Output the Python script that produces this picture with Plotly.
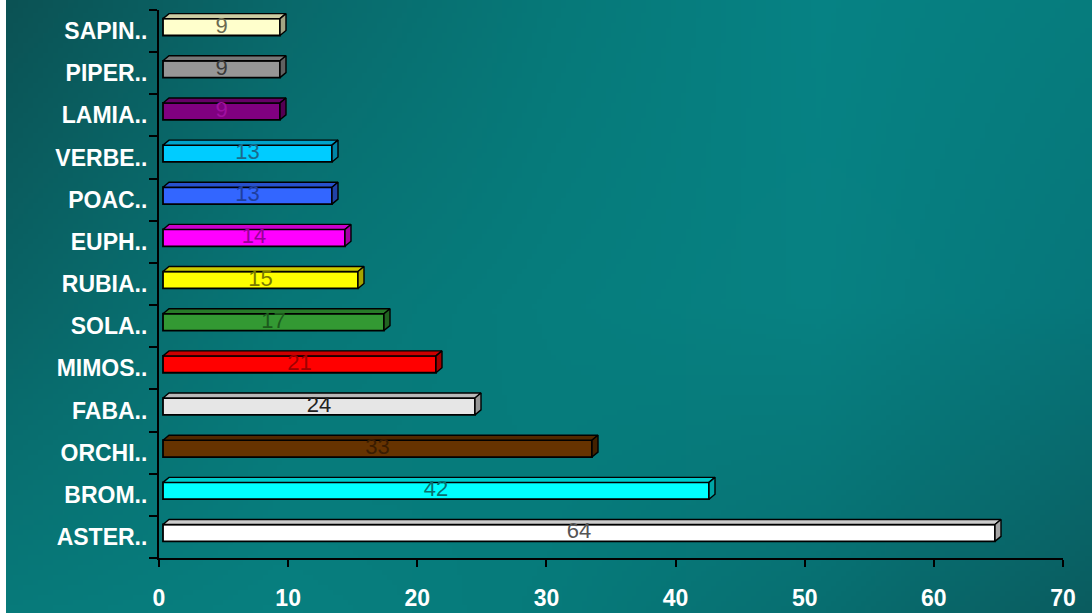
import base64
import struct
import zlib

import plotly.graph_objects as go

# Families, listed bottom to top
families = ["ASTER..", "BROM..", "ORCHI..", "FABA..", "MIMOS..", "SOLA..", "RUBIA..",
            "EUPH..", "POAC..", "VERBE..", "LAMIA..", "PIPER..", "SAPIN.."]
counts = [64, 42, 33, 24, 21, 17, 15, 14, 13, 13, 9, 9, 9]

face_colors = ["#ffffff", "#00ffff", "#663300", "#e6e6e6", "#ff0000", "#339933", "#ffff00",
               "#ff00ff", "#3366ff", "#00ccff", "#800080", "#969696", "#ffffcc"]
label_colors = ["#555555", "#0a6f6f", "#3a1c00", "#222222", "#a00000", "#1c5a1c", "#7a7a00",
                "#990099", "#1f3f9f", "#1a6a8c", "#a010a0", "#3a3a3a", "#6a6a50"]

x_ticks = [0, 10, 20, 30, 40, 50, 60, 70]

W, H = 1092, 613
ML, MR, MT, MB = 159, 29, 10, 55
PW, PH = W - ML - MR, H - MT - MB

# the bars sit on a plane slightly in front of the axes
FRONT_PX_PER_UNIT = 13.0
SHIFT_X_PX, SHIFT_Y_PX = 4, 4
# depth of the extruded bars, in pixels
DX_PX, DY_PX = 6, 5
BAR_W = 0.40

ux = 1 / FRONT_PX_PER_UNIT             # front-plane x units per pixel
uy = len(families) / PH                # y units per pixel
dx, dy = DX_PX * ux, DY_PX * uy


def shade(hex_color, f):
    r, g, b = (int(hex_color[i:i + 2], 16) for i in (1, 3, 5))
    return "#%02x%02x%02x" % (int(r * f), int(g * f), int(b * f))


def hex_rgb(c):
    return tuple(int(c[i:i + 2], 16) for i in (1, 3, 5))


def png_data_uri(rows):
    h, w = len(rows), len(rows[0])
    raw = b"".join(b"\x00" + bytes(c for px in row for c in px) for row in rows)

    def chunk(tag, data):
        return (struct.pack(">I", len(data)) + tag + data
                + struct.pack(">I", zlib.crc32(tag + data) & 0xFFFFFFFF))

    png = (b"\x89PNG\r\n\x1a\n"
           + chunk(b"IHDR", struct.pack(">IIBBBBB", w, h, 8, 2, 0, 0, 0))
           + chunk(b"IDAT", zlib.compress(raw))
           + chunk(b"IEND", b""))
    return "data:image/png;base64," + base64.b64encode(png).decode()


def smooth_backdrop(anchors, w, h):
    """Bilinear blend of a coarse colour grid into a w x h raster."""
    gr, gc = len(anchors), len(anchors[0])
    rgb = [[hex_rgb(c) for c in row] for row in anchors]
    out = []
    for j in range(h):
        fy = j / (h - 1) * (gr - 1)
        r0 = min(int(fy), gr - 2)
        ty = fy - r0
        row = []
        for i in range(w):
            fx = i / (w - 1) * (gc - 1)
            c0 = min(int(fx), gc - 2)
            tx = fx - c0
            px = []
            for k in range(3):
                a = rgb[r0][c0][k] * (1 - tx) + rgb[r0][c0 + 1][k] * tx
                b = rgb[r0 + 1][c0][k] * (1 - tx) + rgb[r0 + 1][c0 + 1][k] * tx
                px.append(int(round(a * (1 - ty) + b * ty)))
            row.append(tuple(px))
        out.append(row)
    return out


# teal backdrop colours, left to right / top to bottom
backdrop = [
    ["#0b5254", "#09686a", "#067878", "#068284", "#067c7d"],
    ["#096466", "#077676", "#067d7d", "#078182", "#06767a"],
    ["#077a7a", "#077f7f", "#067a7a", "#076e70", "#0a5c5f"],
]
backdrop_uri = png_data_uri(smooth_backdrop(backdrop, 218, 122))

fig = go.Figure()

ys = list(range(len(families)))

# invisible anchor so the labelled axes are drawn
fig.add_trace(go.Scatter(x=counts, y=ys, mode="markers", marker=dict(opacity=0),
                         hoverinfo="skip", showlegend=False))

# top and side faces of each bar
for y, v, col in zip(ys, counts, face_colors):
    top = y + BAR_W / 2
    bot = y - BAR_W / 2
    fig.add_trace(go.Scatter(
        x=[0, v, v + dx, dx, 0], y=[top, top, top + dy, top + dy, top],
        mode="lines", fill="toself", fillcolor=shade(col, 0.8),
        line=dict(color="black", width=1.4), xaxis="x2", yaxis="y2",
        hoverinfo="skip", showlegend=False))
    fig.add_trace(go.Scatter(
        x=[v, v + dx, v + dx, v, v], y=[bot, bot + dy, top + dy, top, bot],
        mode="lines", fill="toself", fillcolor=shade(col, 0.65),
        line=dict(color="black", width=1.4), xaxis="x2", yaxis="y2",
        hoverinfo="skip", showlegend=False))

# front faces
fig.add_trace(go.Bar(
    x=counts, y=ys, orientation="h", width=BAR_W,
    marker=dict(color=face_colors, line=dict(color="black", width=1.8)),
    xaxis="x2", yaxis="y2", hoverinfo="skip", showlegend=False))

# value labels
fig.add_trace(go.Scatter(
    x=[v / 2 for v in counts], y=ys, mode="text",
    text=[str(v) for v in counts],
    textfont=dict(family="Liberation Sans, Arial, sans-serif", size=22, color=label_colors),
    xaxis="x2", yaxis="y2", hoverinfo="skip", showlegend=False))

sx, sy = SHIFT_X_PX * ux, SHIFT_Y_PX * uy
n = len(families)

fig.update_layout(
    width=W, height=H,
    margin=dict(l=ML, r=MR, t=MT, b=MB, pad=0),
    paper_bgcolor="white", plot_bgcolor="rgba(0,0,0,0)",
    showlegend=False, hovermode=False,
    xaxis=dict(range=[x_ticks[0], x_ticks[-1]], tickvals=x_ticks,
               ticks="outside", ticklen=7, tickwidth=2, tickcolor="black",
               showline=True, linecolor="black", linewidth=2,
               showgrid=False, zeroline=False, automargin=False,
               tickfont=dict(family="Liberation Sans, Arial, sans-serif", size=23,
                             color="white", weight="bold"),
               ticklabelstandoff=11),
    yaxis=dict(range=[-0.5, n - 0.5], tickvals=ys, ticktext=families,
               ticks="outside", ticklen=5, tickcolor="rgba(0,0,0,0)",
               minor=dict(tickmode="array", tickvals=[i - 0.5 for i in range(n + 1)],
                          ticks="outside", ticklen=8, tickwidth=2, tickcolor="black"),
               showline=True, linecolor="black", linewidth=2,
               showgrid=False, zeroline=False, automargin=False,
               tickfont=dict(family="Liberation Sans, Arial, sans-serif", size=23,
                             color="white", weight="bold")),
    xaxis2=dict(range=[-sx, PW * ux - sx], overlaying="x",
                visible=False, showgrid=False, zeroline=False),
    yaxis2=dict(range=[-0.5 - sy, n - 0.5 - sy], overlaying="y",
                visible=False, showgrid=False, zeroline=False),
    images=[dict(source=backdrop_uri, xref="paper", yref="paper",
                 x=(6 - ML) / PW, y=1 + MT / PH, sizex=(W - 6) / PW, sizey=H / PH,
                 xanchor="left", yanchor="top", sizing="stretch", layer="below")],
)

fig.write_html("out.html")
